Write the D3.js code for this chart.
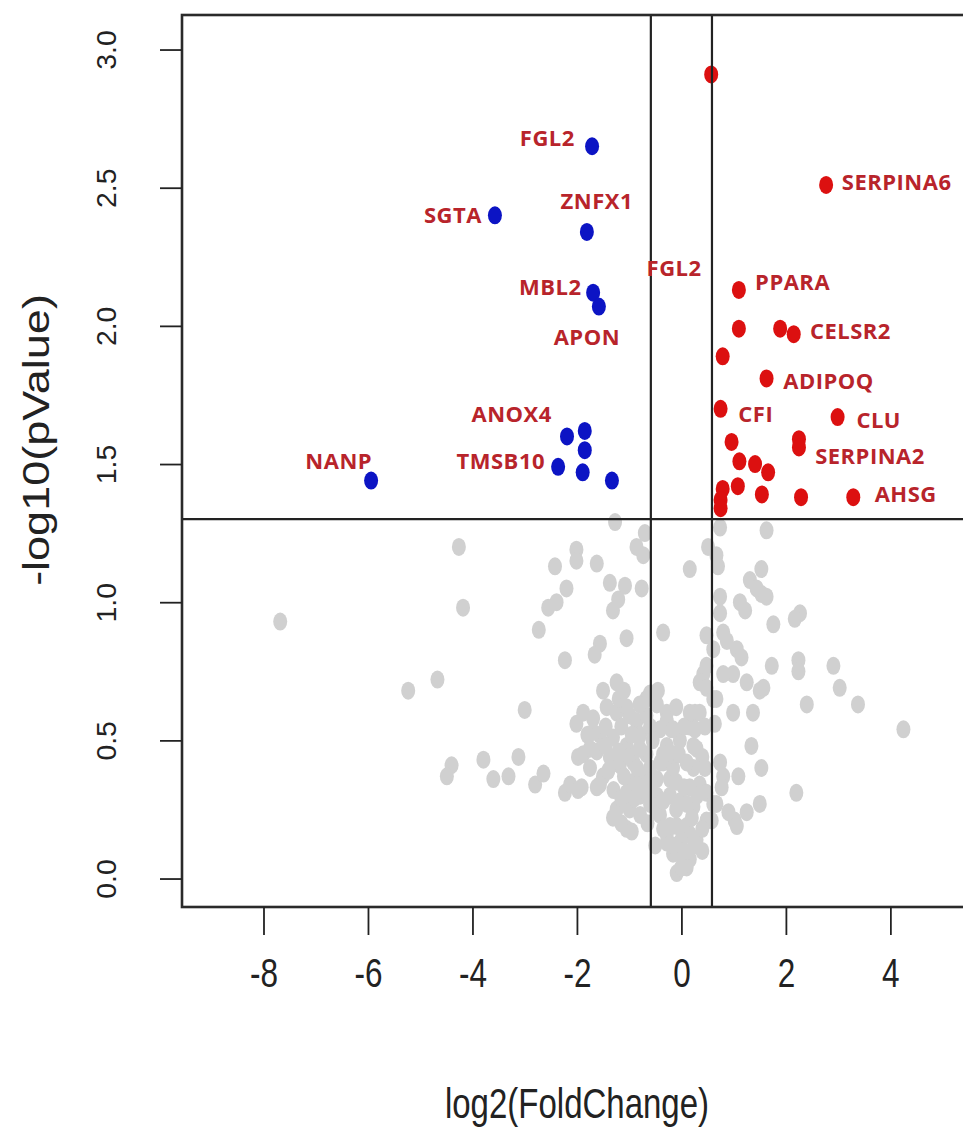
<!DOCTYPE html>
<html>
<head>
<meta charset="utf-8">
<script src="https://cdn.jsdelivr.net/npm/d3@7"></script>
<style>
  body { margin: 0; background: #fff; }
</style>
</head>
<body>
<div id="chart"></div>
<script>
// volcano plot: [log2FC, -log10 p]

// not significant
var grayGenes = [
    [-7.68, 0.93], [-4.26, 1.20], [-4.18, 0.98], [-5.23, 0.68], [-4.67, 0.72],
    [-2.42, 1.13], [-2.20, 1.05], [-2.39, 1.00], [-2.55, 0.98], [-2.73, 0.90],
    [-2.23, 0.79], [-2.01, 1.19], [-2.01, 1.15], [-3.00, 0.61], [-2.01, 0.56],
    [-1.98, 0.44], [-4.40, 0.41], [-4.49, 0.37], [-3.79, 0.43], [-3.60, 0.36],
    [-3.31, 0.37], [-3.12, 0.44], [-2.80, 0.34], [-2.64, 0.38], [-2.23, 0.31],
    [-2.13, 0.34], [-1.98, 0.32], [-1.27, 1.29], [-0.70, 1.25], [-0.86, 1.20],
    [-0.73, 1.17], [-1.62, 1.14], [-1.37, 1.07], [-1.08, 1.06], [-0.76, 1.05],
    [-1.21, 1.01], [-1.31, 0.97], [-0.35, 0.89], [-1.05, 0.87], [-1.56, 0.85],
    [-1.66, 0.81], [-1.24, 0.71], [-1.50, 0.68], [-0.54, 0.66], [-1.91, 0.33],
    [-1.69, 0.58], [-1.43, 0.62], [-1.24, 0.60], [-1.05, 0.62], [-0.86, 0.57],
    [-0.67, 0.59], [-0.47, 0.63], [-1.56, 0.52], [-1.31, 0.51], [-1.05, 0.48],
    [-0.79, 0.52], [-1.88, 0.45], [-1.62, 0.46], [-1.37, 0.44], [-1.18, 0.41],
    [-0.92, 0.42], [-0.67, 0.45], [-0.41, 0.54], [-0.28, 0.48], [-0.35, 0.42],
    [-1.75, 0.40], [-1.50, 0.37], [-1.62, 0.33], [-0.92, 0.35], [-0.73, 0.37],
    [-1.05, 0.31], [-0.79, 0.30], [-1.24, 0.25], [-0.99, 0.25], [-0.79, 0.23],
    [-1.05, 0.18], [-1.31, 0.22], [-0.47, 0.30], [-0.41, 0.23], [-0.28, 0.16],
    [-0.16, 0.09], [-0.09, 0.02], [-0.47, 0.36], [-0.22, 0.30], [-0.22, 0.36],
    [-0.28, 0.60], [-0.19, 0.54], [0.16, 1.12], [0.74, 1.27], [0.51, 1.20],
    [0.70, 1.13], [1.63, 1.26], [1.53, 1.12], [1.31, 1.08], [1.53, 1.03],
    [1.12, 1.00], [1.22, 0.97], [0.74, 1.02], [0.74, 0.96], [1.76, 0.92],
    [2.27, 0.96], [2.17, 0.94], [0.48, 0.88], [0.87, 0.86], [1.06, 0.83],
    [1.15, 0.80], [1.73, 0.77], [2.24, 0.79], [2.24, 0.75], [2.91, 0.77],
    [3.03, 0.69], [3.38, 0.63], [4.25, 0.54], [2.40, 0.63], [0.42, 0.74],
    [0.35, 0.71], [0.99, 0.74], [1.25, 0.71], [1.50, 0.68], [1.37, 0.60],
    [0.99, 0.60], [0.67, 0.65], [0.26, 0.60], [0.16, 0.55], [1.34, 0.48],
    [1.53, 0.40], [1.09, 0.37], [0.74, 0.42], [2.20, 0.31], [1.50, 0.27],
    [1.25, 0.24], [1.02, 0.21], [0.90, 0.24], [0.58, 0.21], [-0.99, 0.59],
    [-1.69, 0.53], [-0.99, 0.44], [-1.56, 0.34], [-0.86, 0.34], [-0.67, 0.31],
    [-0.28, 0.57], [-0.03, 0.50], [-0.35, 0.45], [-0.16, 0.40], [0.23, 0.40],
    [0.23, 0.48], [0.35, 0.34], [-0.03, 0.28], [0.23, 0.26], [-0.47, 0.24],
    [-0.22, 0.19], [0.10, 0.19], [0.29, 0.14], [-0.28, 0.13], [-0.03, 0.09],
    [0.16, 0.07], [0.48, 0.31], [0.48, 0.21], [0.61, 0.27], [0.16, 0.60],
    [0.48, 0.69], [0.48, 0.77], [0.61, 0.83], [0.61, 0.65], [0.67, 1.17],
    [1.44, 1.05], [1.63, 1.02], [0.80, 0.89], [0.80, 0.74], [1.57, 0.69],
    [0.64, 0.56], [0.80, 0.37], [0.77, 0.33], [0.67, 0.27], [1.06, 0.19],
    [0.26, 0.54], [0.29, 0.47], [0.16, 0.33], [0.10, 0.27], [-0.09, 0.19],
    [0.16, 0.16], [0.10, 0.04], [-0.16, 0.54], [-0.16, 0.45], [-1.88, 0.60],
    [-0.67, 0.65], [-0.60, 0.67],
    // dense core
    [-1.80, 0.52], [-1.45, 0.55], [-1.15, 0.55], [-0.95, 0.52], [-0.60, 0.55],
    [-1.75, 0.47], [-1.45, 0.48], [-1.20, 0.46], [-0.80, 0.47], [-0.55, 0.50],
    [-1.40, 0.39], [-1.10, 0.37], [-0.85, 0.40], [-0.60, 0.40], [-1.30, 0.32],
    [-1.15, 0.29], [-0.90, 0.29], [-0.60, 0.35], [-1.15, 0.20], [-0.95, 0.17],
    [-0.65, 0.20], [-0.60, 0.27], [-1.20, 0.65], [-0.80, 0.63], [-1.10, 0.68],
    [-0.45, 0.68], [-0.10, 0.62], [0.05, 0.55], [0.35, 0.60], [-0.05, 0.45],
    [0.10, 0.42], [0.40, 0.44], [-0.40, 0.42], [-0.10, 0.35], [0.05, 0.33],
    [0.30, 0.30], [-0.35, 0.28], [-0.10, 0.25], [0.20, 0.22], [0.40, 0.18],
    [-0.35, 0.18], [0.00, 0.14], [-0.15, 0.12], [0.05, 0.10], [0.00, 0.04],
    [0.40, 0.10], [0.45, 0.55], [0.45, 0.40], [-0.50, 0.12], [0.25, 0.12]
];

// up-regulated
var upGenes = [
    [0.57, 2.91], [2.77, 2.51], [1.10, 2.13], [1.10, 1.99], [1.89, 1.99],
    [2.15, 1.97], [0.79, 1.89], [1.63, 1.81], [0.75, 1.70], [2.99, 1.67],
    [2.25, 1.59], [2.25, 1.56], [0.96, 1.58], [1.11, 1.51], [1.41, 1.50],
    [1.66, 1.47], [1.08, 1.42], [0.79, 1.41], [0.75, 1.37], [0.75, 1.34],
    [1.54, 1.39], [2.29, 1.38], [3.29, 1.38]
];

// down-regulated
var downGenes = [
    [-1.71, 2.65], [-3.57, 2.40], [-1.81, 2.34], [-1.69, 2.12], [-1.58, 2.07],
    [-2.19, 1.60], [-1.85, 1.62], [-1.85, 1.55], [-2.36, 1.49], [-1.89, 1.47],
    [-1.33, 1.44], [-5.94, 1.44]
];

// gene labels: name, x, y, anchor
var labelNames = ["FGL2", "SGTA", "ZNFX1", "MBL2", "APON", "ANOX4", "TMSB10", "NANP",
    "FGL2", "SERPINA6", "PPARA", "CELSR2", "ADIPOQ", "CFI", "CLU", "SERPINA2", "AHSG"];
var labelX = [-2.04, -3.82, -1.62, -1.91, -1.81, -3.25, -2.61, -6.56,
    -0.14, 3.07, 1.41, 2.46, 1.95, 1.09, 3.35, 2.56, 3.70];
var labelY = [2.68, 2.40, 2.45, 2.14, 1.96, 1.68, 1.51, 1.51,
    2.21, 2.52, 2.16, 1.98, 1.80, 1.68, 1.66, 1.53, 1.39];
var labelAnchor = ["end", "end", "middle", "end", "middle", "middle", "end", "middle",
    "middle", "start", "start", "start", "start", "start", "start", "start", "start"];

var xTicks = [-8, -6, -4, -2, 0, 2, 4];
var yTicks = [0, 0.5, 1, 1.5, 2, 2.5, 3];

var fcCut = 0.585;   // log2(1.5)
var pCut = 1.301;    // -log10(0.05)

var width = 963, height = 1138;
var box = { left: 182, right: 975, top: 15, bottom: 907 };

var svg = d3.select("#chart")
    .append("svg")
    .attr("width", width)
    .attr("height", height);

var x = d3.scaleLinear()
    .domain([-9.56, 5.62])
    .range([box.left, box.right]);

var y = d3.scaleLinear()
    .domain([-0.103, 3.125])
    .range([box.bottom, box.top]);

// points
function drawPoints(data, color) {
    svg.append("g")
        .selectAll("ellipse")
        .data(data)
        .enter()
        .append("ellipse")
        .attr("cx", function (d) { return x(d[0]); })
        .attr("cy", function (d) { return y(d[1]); })
        .attr("rx", 7)
        .attr("ry", 9)
        .attr("fill", color);
}
drawPoints(grayGenes, "#d0d0d0");
drawPoints(upGenes, "#dc1010");
drawPoints(downGenes, "#0c14c4");

// cut-off lines
var lines = svg.append("g")
    .attr("stroke", "#222")
    .attr("stroke-width", 2.2);
[-fcCut, fcCut].forEach(function (v) {
    lines.append("line")
        .attr("x1", x(v)).attr("x2", x(v))
        .attr("y1", box.top).attr("y2", box.bottom);
});
lines.append("line")
    .attr("x1", box.left).attr("x2", box.right)
    .attr("y1", y(pCut)).attr("y2", y(pCut));

// box
svg.append("rect")
    .attr("x", box.left)
    .attr("y", box.top)
    .attr("width", box.right - box.left)
    .attr("height", box.bottom - box.top)
    .attr("fill", "none")
    .attr("stroke", "#2a2a2a")
    .attr("stroke-width", 2.6);

// X axis
var gx = svg.append("g")
    .attr("transform", "translate(0," + box.bottom + ")")
    .call(d3.axisBottom(x).tickValues(xTicks).tickSize(28).tickFormat(function (d) { return String(d); }));
gx.select(".domain").remove();
gx.selectAll("line").attr("stroke", "#222").attr("stroke-width", 1.8);
gx.selectAll("text")
    .attr("y", null).attr("dy", null)
    .attr("transform", "translate(0,80) scale(1,1.3)")
    .style("font-family", "'Liberation Sans', Arial, sans-serif")
    .style("font-size", "31.5px")
    .attr("fill", "#222");

// Y axis
var gy = svg.append("g")
    .attr("transform", "translate(" + box.left + ",0)")
    .call(d3.axisLeft(y).tickValues(yTicks).tickSize(22).tickFormat(d3.format(".1f")));
gy.select(".domain").remove();
gy.selectAll("line").attr("stroke", "#222").attr("stroke-width", 1.8);
gy.selectAll("text")
    .attr("x", null).attr("dy", null)
    .attr("text-anchor", "middle")
    .attr("transform", "translate(-66,0) rotate(-90) scale(1.05,1)")
    .style("font-family", "'Liberation Sans', Arial, sans-serif")
    .style("font-size", "27px")
    .attr("fill", "#222");

// axis titles
svg.append("text")
    .attr("transform", "translate(577,1118) scale(1,1.3)")
    .attr("text-anchor", "middle")
    .style("font-family", "'Liberation Sans', Arial, sans-serif")
    .style("font-size", "33px")
    .attr("fill", "#222")
    .text("log2(FoldChange)");

svg.append("text")
    .attr("transform", "translate(49,440) rotate(-90) scale(1.25,1)")
    .attr("text-anchor", "middle")
    .style("font-family", "'Liberation Sans', Arial, sans-serif")
    .style("font-size", "36px")
    .attr("fill", "#222")
    .text("-log10(pValue)");

// gene labels
svg.append("g")
    .selectAll("text")
    .data(labelNames)
    .enter()
    .append("text")
    .attr("x", function (d, i) { return x(labelX[i]); })
    .attr("y", function (d, i) { return y(labelY[i]); })
    .attr("dy", "0.36em")
    .attr("text-anchor", function (d, i) { return labelAnchor[i]; })
    .style("font-family", "'Open Sans', sans-serif")
    .style("font-weight", "bold")
    .style("font-size", "22px")
    .style("letter-spacing", "0.5px")
    .attr("fill", "#b8242b")
    .text(function (d) { return d; });
</script>
</body>
</html>
